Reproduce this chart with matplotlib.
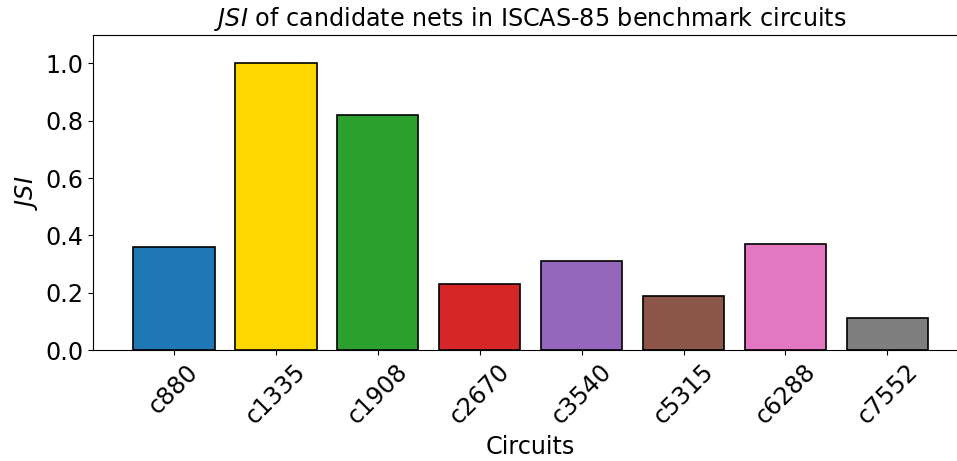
import numpy as np
import matplotlib
matplotlib.use("Agg")
import matplotlib.pyplot as plt

circuits = ["c880", "c1335", "c1908", "c2670", "c3540", "c5315", "c6288", "c7552"]
jsi = [0.36, 1.0, 0.82, 0.23, 0.31, 0.19, 0.37, 0.11]
colors = ["#1f77b4", "#ffd700", "#2ca02c", "#d62728",
          "#9467bd", "#8c564b", "#e377c2", "#7f7f7f"]

W, H = 957, 461
fig = plt.figure(figsize=(W / 100, H / 100), dpi=100)
# axes runs slightly past the right edge of the picture, as in the reference
ax = fig.add_axes([93.3 / W, 1 - 350 / H, 874.6 / W, (350 - 34.7) / H])

fs = 17.2
x = np.arange(len(circuits))
ax.bar(x, jsi, color=colors, edgecolor="black", linewidth=1.2, width=0.8)
ax.set_xticks(x)
ax.set_xticklabels(circuits, rotation=45, fontsize=fs)
ax.tick_params(axis="y", labelsize=fs)
ax.set_ylim(0, 1.1)
ax.set_xlabel("Circuits", fontsize=fs)
ax.set_ylabel("$JSI$", fontsize=fs)
ax.set_title("$JSI$ of candidate nets in ISCAS-85 benchmark circuits", fontsize=fs)

fig.savefig("out.png", dpi=100)
